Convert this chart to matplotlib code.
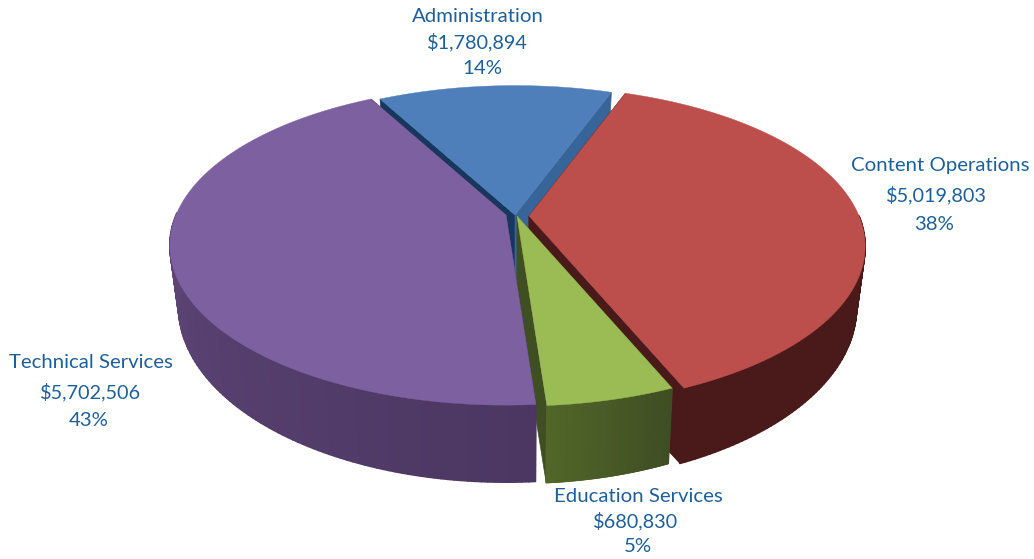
import numpy as np
import matplotlib
matplotlib.use('Agg')
import matplotlib.pyplot as plt
from matplotlib.collections import PolyCollection
from matplotlib.colors import to_rgb

plt.rcParams['font.family'] = ['Lato', 'DejaVu Sans']

# Data
labels = ['Administration', 'Content Operations', 'Education Services', 'Technical Services']
amounts = [1780894, 5019803, 680830, 5702506]

# Styles per slice, same order
top_colors = ['#4f7fba', '#bc4f4b', '#9bbb55', '#7d60a0']
face_first = ['#17375e', '#4a1a1a', '#46591f', '#4a3660']
face_last = ['#37659a', '#4a1a1a', '#3f4f22', '#4a3660']
wall_start = ['#37659a', '#4a1a1a', '#3f4d24', '#4b3762']
wall_end = ['#17375e', '#4a1a1a', '#516628', '#6c4f85']
apexes = [(515, 215), (529, 216), (517, 216), (506, 215)]
draw_order = [0, 1, 2, 3]

label_xy = [
    [(478, 16), (477, 42), (482, 69)],
    [(940, 165), (936, 195), (934, 225)],
    [(638, 497), (636, 521), (638, 547)],
    [(91, 363), (91, 392), (89, 420)],
]

START_ANGLE = 118.5
RX = 330
RY = 154
PERSP = 0.19
DEPTH = 61
APEX_DEPTH = 84
SHRINK_X = 0.975
STRETCH_Y = 1.1
CX, CY = 517, 245


def project(t, apex):
    # point on the unit disc rim at angle t (deg) -> screen, far side gets smaller
    u = np.cos(np.radians(t))
    v = np.sin(np.radians(t))
    w = 1 + PERSP * v
    return apex[0] + RX * u / w, apex[1] - RY * v / w


def lower(x, y):
    # same point on the bottom of the pie
    return CX + (x - CX) * SHRINK_X, CY + (y - CY) * STRETCH_Y + DEPTH


fig = plt.figure(figsize=(10.34, 5.59), dpi=100)
ax = fig.add_axes([0, 0, 1, 1])
ax.set_xlim(0, 1034)
ax.set_ylim(559, 0)
ax.axis('off')

total = sum(amounts)
sweeps = [a / total * 360 for a in amounts]
starts = START_ANGLE - np.concatenate([[0], np.cumsum(sweeps)[:-1]])

for i in draw_order:
    apex = apexes[i]
    ts = np.linspace(starts[i], starts[i] - sweeps[i], 160)
    xs, ys = project(ts, apex)
    bx, by = lower(xs, ys)
    ax_low = apex[0]
    ay_low = apex[1] + APEX_DEPTH

    # cut faces
    ax.fill([apex[0], xs[0], bx[0], ax_low], [apex[1], ys[0], by[0], ay_low],
            color=face_first[i], lw=0.5, zorder=i * 3 + 1)
    ax.fill([apex[0], xs[-1], bx[-1], ax_low], [apex[1], ys[-1], by[-1], ay_low],
            color=face_last[i], lw=0.5, zorder=i * 3 + 1)

    # outer wall, gradient along the arc, back side is hidden anyway
    c0 = np.array(to_rgb(wall_start[i]))
    c1 = np.array(to_rgb(wall_end[i]))
    quads = []
    cols = []
    for k in range(len(ts) - 1):
        if np.sin(np.radians(ts[k])) > 0 and np.sin(np.radians(ts[k + 1])) > 0:
            continue
        quads.append([(xs[k], ys[k]), (xs[k + 1], ys[k + 1]), (bx[k + 1], by[k + 1]), (bx[k], by[k])])
        f = k / (len(ts) - 2)
        cols.append(c0 + (c1 - c0) * f)
    if quads:
        ax.add_collection(PolyCollection(quads, facecolors=cols, edgecolors=cols, linewidths=1.2, zorder=i * 3 + 2))

    # top
    ax.fill(np.r_[apex[0], xs], np.r_[apex[1], ys], color=top_colors[i], lw=0.3, zorder=i * 3 + 3)

    # labels
    lines = [labels[i], f'${amounts[i]:,}', f'{amounts[i] / total * 100:.0f}%']
    sizes = [14.7, 14.3, 14.7]
    for line, (lx, ly), fs in zip(lines, label_xy[i], sizes):
        ax.text(lx, ly, line, ha='center', va='center', fontsize=fs, color='#1f5f99', zorder=30)

fig.savefig('out.png', dpi=100, facecolor='white')
